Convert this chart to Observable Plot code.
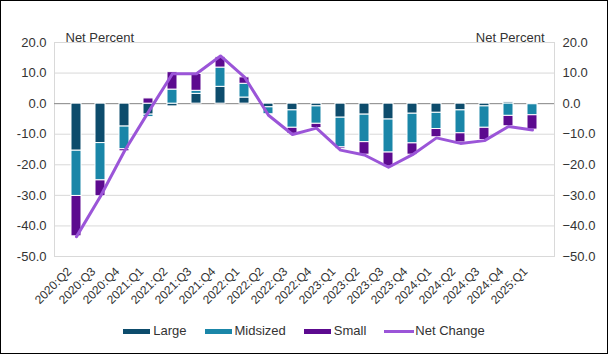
<!DOCTYPE html>
<html>
<head>
<meta charset="utf-8">
<script src="https://cdn.jsdelivr.net/npm/d3@7"></script>
<script src="https://cdn.jsdelivr.net/npm/@observablehq/plot@0.6"></script>
<style>
  html, body { margin: 0; padding: 0; background: #fff; }
  #chart { box-sizing: border-box; width: 608px; height: 354px; border: 1px solid #000; font-family: "Liberation Sans", Arial, sans-serif; overflow: hidden; position: relative; }
  #legend { position: absolute; left: 0; right: 0; top: 322px; display: flex; justify-content: center; gap: 18px; font-size: 13px; line-height: 16px; color: #333; }
  .item { display: flex; align-items: center; gap: 3px; }
  .sw { width: 27px; height: 5px; display: inline-block; }
  .ln { width: 30px; height: 3px; display: inline-block; margin-right: -2px; }
</style>
</head>
<body>
<div id="chart"></div>
<script>
const quarters = ["2020:Q2","2020:Q3","2020:Q4","2021:Q1","2021:Q2","2021:Q3","2021:Q4","2022:Q1","2022:Q2","2022:Q3","2022:Q4","2023:Q1","2023:Q2","2023:Q3","2023:Q4","2024:Q1","2024:Q2","2024:Q3","2024:Q4","2025:Q1"];
const large = [-15.4, -12.9, -7.5, -3.6, -0.9, 3.2, 5.5, 2.0, -1.2, -2.2, -0.9, -4.6, -3.6, -5.2, -3.3, -3.0, -2.2, -0.9, 0.5, -0.2];
const midsized = [-14.8, -12.2, -7.4, -0.8, 4.6, 1.0, 6.3, 4.5, -2.3, -5.7, -5.7, -9.7, -9.0, -10.8, -9.7, -5.3, -7.5, -7.0, -4.0, -3.6];
const small = [-13.2, -5.2, -0.7, 1.7, 5.7, 5.5, 3.4, 2.1, -0.3, -2.0, -1.4, -0.5, -4.1, -4.6, -3.7, -2.7, -3.0, -4.0, -3.4, -4.7];
const netChange = [-43.5, -30.3, -15.5, -2.7, 9.8, 9.8, 15.6, 8.7, -3.8, -10.1, -8.0, -15.2, -16.8, -20.8, -16.7, -11.2, -13.0, -12.1, -7.5, -8.6];
const series = ["Large", "Midsized", "Small"];
const colors = ["#0d4c6c", "#1a86a8", "#5c0a8f"];
const lineColor = "#9b55d8";
const yTicks = [-50, -40, -30, -20, -10, 0, 10, 20];

const tidy = quarters.flatMap((q, i) => [
  {q, s: "Large", v: large[i]},
  {q, s: "Midsized", v: midsized[i]},
  {q, s: "Small", v: small[i]}
]);
const netData = quarters.map((q, i) => ({q, v: netChange[i]}));

const plot = Plot.plot({
  width: 606,
  height: 316,
  marginLeft: 53,
  marginRight: 53,
  marginTop: 41,
  marginBottom: 61,
  style: {fontFamily: "'Liberation Sans', Arial, sans-serif", color: "#333", background: "transparent"},
  x: {domain: quarters, padding: 0.6, label: null},
  y: {domain: [-50, 20], label: null},
  color: {domain: series, range: colors},
  marks: [
    Plot.gridY(yTicks, {stroke: "#d9d9d9", strokeOpacity: 1}),
    Plot.frame({stroke: "#d9d9d9"}),
    Plot.ruleY([0], {stroke: "#8c8c8c"}),
    Plot.barY(tidy, {x: "q", y: "v", fill: "s", order: series, stroke: "white", strokeWidth: 1}),
    Plot.line(netData, {x: "q", y: "v", stroke: lineColor, strokeWidth: 3}),
    Plot.axisY(yTicks, {anchor: "left", tickSize: 0, tickPadding: 8, fontSize: 13, label: null, tickFormat: d => d.toFixed(1)}),
    Plot.axisY(yTicks, {anchor: "right", tickSize: 0, tickPadding: 8, fontSize: 13, label: null, tickFormat: d => d < 0 ? "\u2212" + Math.abs(d).toFixed(1) : d.toFixed(1)}),
    Plot.axisX({tickRotate: -45, tickSize: 0, tickPadding: 4, fontSize: 12, dx: -7, dy: 9, label: null}),
    Plot.text(["Net Percent"], {frameAnchor: "top-left", dx: 11, dy: -10, textAnchor: "start", fontSize: 13, fill: "#333"}),
    Plot.text(["Net Percent"], {frameAnchor: "top-right", dx: -10, dy: -10, textAnchor: "end", fontSize: 13, fill: "#333"})
  ]
});
const chart = document.getElementById("chart");
chart.appendChild(plot);

const legend = document.createElement("div");
legend.id = "legend";
series.forEach((s, i) => {
  const it = document.createElement("div");
  it.className = "item";
  it.innerHTML = `<span class="sw" style="background:${colors[i]}"></span><span>${s}</span>`;
  legend.appendChild(it);
});
const li = document.createElement("div");
li.className = "item";
li.innerHTML = `<span class="ln" style="background:${lineColor}"></span><span>Net Change</span>`;
legend.appendChild(li);
chart.appendChild(legend);
</script>
</body>
</html>
